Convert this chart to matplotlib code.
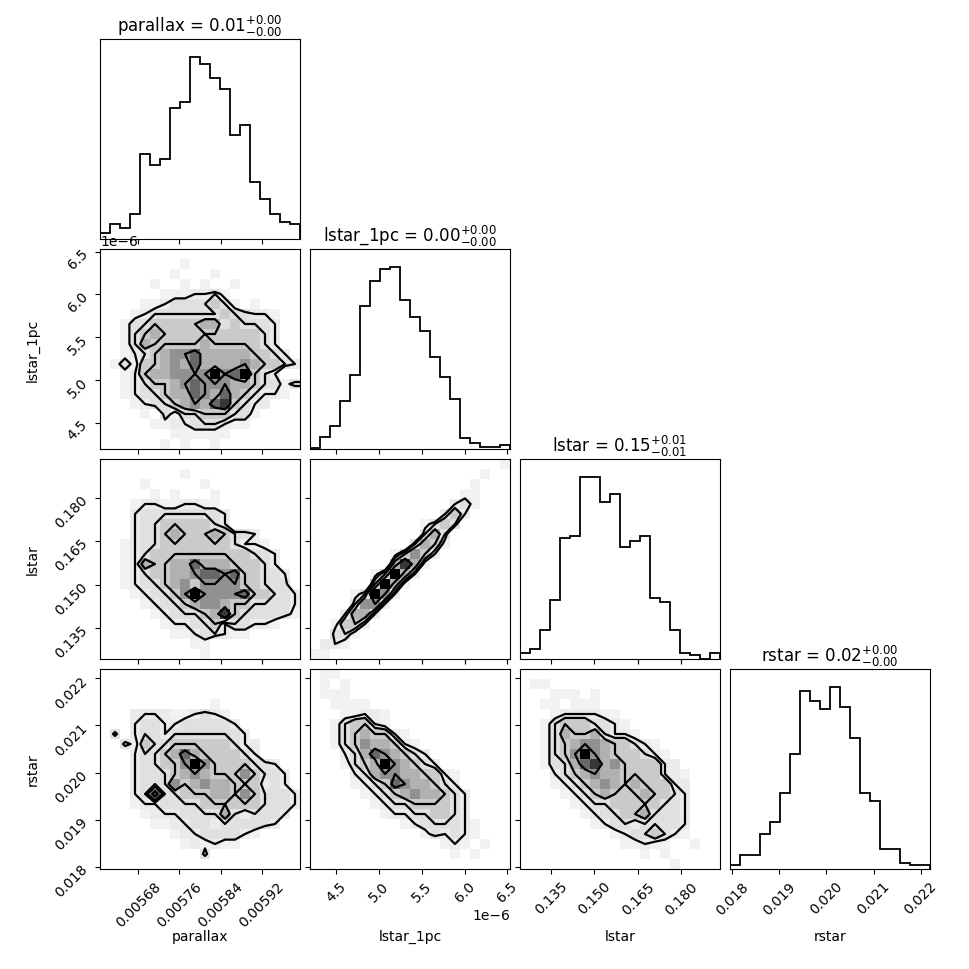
import numpy as np
import matplotlib
matplotlib.use("Agg")
import matplotlib.pyplot as plt
from matplotlib.colors import LinearSegmentedColormap
from matplotlib.ticker import MaxNLocator, NullLocator

# parameter names, titles and plotting ranges
labels = ["parallax", "lstar_1pc", "lstar", "rstar"]
titles = [r"parallax = $0.01_{-0.00}^{+0.00}$",
          r"lstar_1pc = $0.00_{-0.00}^{+0.00}$",
          r"lstar = $0.15_{-0.01}^{+0.01}$",
          r"rstar = $0.02_{-0.00}^{+0.00}$"]
ranges = [(0.005606, 0.005994), (4.19e-6, 6.53e-6), (0.1244, 0.1933), (0.01795, 0.0222)]

# 1D marginal histograms (20 bins, relative heights)
hist_parallax = [3.1, 8.3, 6.1, 13.8, 46.8, 40.9, 44.0, 72.1, 75.2, 100, 96.1, 88.4,
                 82.6, 57.2, 62.8, 31.6, 22.0, 13.8, 9.5, 8.1]
hist_lstar_1pc = [0.6, 6.4, 12.5, 26.2, 40.9, 78.5, 92.5, 98.9, 100, 82.2, 72.5, 64.8,
                  50.5, 39.4, 27.5, 6.2, 3.1, 0.9, 0.9, 2.2]
hist_lstar = [3.1, 5.5, 16.0, 32.5, 66.8, 67.5, 100, 100, 86.6, 90.8, 61.7, 64.8,
              67.7, 33.6, 31.4, 16.0, 3.3, 2.2, 0.2, 3.5]
hist_rstar = [2.0, 7.7, 7.7, 19.3, 25.9, 41.7, 63.3, 97.8, 92.5, 87.9, 100, 89.0,
              72.1, 41.7, 37.2, 10.8, 10.8, 3.1, 2.0, 2.0]
hists = [hist_parallax, hist_lstar_1pc, hist_lstar, hist_rstar]

# 2D histograms, 20x20, first string = top row (largest y);
# each digit is a density class, translated by digit_counts
digit_counts = [0, 2.9, 3.6, 4.5, 5.9, 7.2, 8.5, 10, 11.5, 13]
contour_levels = [3.6, 4.5, 5.9, 8.5]

grid_lstar1pc_parallax = [
    "00000000000000000000",
    "00000000100000000000",
    "00000001000100000000",
    "00000100101001000000",
    "00000011122310000000",
    "00001123333431010000",
    "00012333333343322100",
    "00133444445534333200",
    "00134544444444443200",
    "00135444445444443200",
    "00123456675555544320",
    "01314456575555654432",
    "00124556666967943200",
    "00123445676665543313",
    "00123345576575432210",
    "00012334565784322000",
    "00001031334443310000",
    "00000112233321100000",
    "00000001111110000000",
    "00000010100100000000",
]
grid_lstar_parallax = [
    "00000000000000000000",
    "00000000100000000000",
    "00001000001000000000",
    "00000101000100000000",
    "00012211221100000000",
    "00023333333320000000",
    "00023344444320000000",
    "00023345444543320000",
    "00123344444443221000",
    "00123444444444433200",
    "00125445575554443200",
    "00123445567767443320",
    "00123345646666443330",
    "00012334696666744332",
    "00001233456654433332",
    "00000123334584333331",
    "00000012233423322100",
    "00000001123321100000",
    "00000000011000000000",
    "00000000001000000000",
]
grid_rstar_parallax = [
    "00000000000000000000",
    "00000000000000000000",
    "00000000000000000000",
    "00000000000100000000",
    "00022221123210000000",
    "00023322333332000000",
    "03023323333333200000",
    "00314334444443220000",
    "00023345754444320000",
    "00023344696444433200",
    "00023334565444643320",
    "00023336456554442320",
    "00023733444554643332",
    "00012233334444443332",
    "00001222333353233320",
    "00000112233233333200",
    "00000001223333210000",
    "00000000121211000000",
    "00000000003000000000",
    "00000000000000000000",
]
grid_lstar_lstar1pc = [
    "00000000000000000001",
    "00000000000000000100",
    "00000000000000001000",
    "00000000000000011000",
    "00000000000000231000",
    "00000000000002420000",
    "00000000000134300000",
    "00000000000353000000",
    "00000000003541000000",
    "00000000146420000000",
    "00000000585100000000",
    "00000014952000000000",
    "00000049510000000000",
    "00001396200000000000",
    "00003662000000000000",
    "00025520000000000000",
    "00144200000000000000",
    "00331000000000000000",
    "02210000000000000000",
    "11000000000000000000",
]
grid_rstar_lstar1pc = [
    "01100000000000000000",
    "01010000000000000000",
    "01110000000000000000",
    "00111100000000000000",
    "00011221000000000000",
    "00134421000000000000",
    "00134544210000000000",
    "00134655421000000000",
    "00023576543200000000",
    "00013459654320000000",
    "00002356655442100000",
    "00001234765543200000",
    "00000123456554320000",
    "00000012334444320000",
    "00000001223344320000",
    "00000000012333321000",
    "00000000000132321000",
    "00000000000001210100",
    "00000000000000101000",
    "00000000000000000000",
]
grid_rstar_lstar = [
    "00000000000000000000",
    "01100000000000000000",
    "00011101000000000000",
    "00110111000000000000",
    "00012222110000000000",
    "00134443321000000000",
    "00135445322100000000",
    "00134566544321000000",
    "00134696544432100000",
    "00133578564444220000",
    "00023456554444221000",
    "00012345654544422000",
    "00001234544454432000",
    "00000123344444332000",
    "00000012334453332000",
    "00000001233233332000",
    "00000000012334321000",
    "00000000001121100100",
    "00000000000010100000",
    "00000000000000010000",
]
grids = {(1, 0): grid_lstar1pc_parallax,
         (2, 0): grid_lstar_parallax,
         (3, 0): grid_rstar_parallax,
         (2, 1): grid_lstar_lstar1pc,
         (3, 1): grid_rstar_lstar1pc,
         (3, 2): grid_rstar_lstar}

density_cmap = LinearSegmentedColormap.from_list("density_cmap", ["k", (1, 1, 1, 0)])


def draw_2d(ax, grid, xr, yr):
    Z = np.array([[digit_counts[int(c)] for c in row] for row in grid], dtype=float)[::-1]
    xe = np.linspace(xr[0], xr[1], Z.shape[1] + 1)
    ye = np.linspace(yr[0], yr[1], Z.shape[0] + 1)

    # padded grid so contours close at the edges
    Z2 = Z.min() + np.zeros((Z.shape[0] + 4, Z.shape[1] + 4))
    Z2[2:-2, 2:-2] = Z
    Z2[2:-2, 1] = Z[:, 0]
    Z2[2:-2, -2] = Z[:, -1]
    Z2[1, 2:-2] = Z[0]
    Z2[-2, 2:-2] = Z[-1]
    Z2[1, 1] = Z[0, 0]
    Z2[1, -2] = Z[0, -1]
    Z2[-2, 1] = Z[-1, 0]
    Z2[-2, -2] = Z[-1, -1]
    xc = 0.5 * (xe[1:] + xe[:-1])
    yc = 0.5 * (ye[1:] + ye[:-1])
    dx = xc[1] - xc[0]
    dy = yc[1] - yc[0]
    X2 = np.concatenate([xc[0] + np.array([-2, -1]) * dx, xc, xc[-1] + np.array([1, 2]) * dx])
    Y2 = np.concatenate([yc[0] + np.array([-2, -1]) * dy, yc, yc[-1] + np.array([1, 2]) * dy])

    ax.pcolor(xe, ye, Z.max() - Z, cmap=density_cmap)
    ax.contour(X2, Y2, Z2, contour_levels, colors="k", linewidths=1.6)
    ax.set_xlim(xr)
    ax.set_ylim(yr)


K = 4
lb = 1.0 / 9.7
tr = 9.3 / 9.7
fig, axes = plt.subplots(K, K, figsize=(9.7, 9.7))
fig.subplots_adjust(left=lb, bottom=lb, right=tr, top=tr, wspace=0.05, hspace=0.05)

for i in range(K):
    for j in range(K):
        ax = axes[i, j]
        if j > i:
            ax.set_frame_on(False)
            ax.set_xticks([])
            ax.set_yticks([])
            continue
        if j == i:
            edges = np.linspace(ranges[i][0], ranges[i][1], 21)
            ax.stairs(hists[i], edges, color="k", linewidth=1.3)
            ax.set_xlim(ranges[i])
            ax.set_ylim(0, 1.1 * max(hists[i]))
            ax.set_title(titles[i], fontsize=12)
            ax.yaxis.set_major_locator(NullLocator())
        else:
            draw_2d(ax, grids[(i, j)], ranges[j], ranges[i])
            ax.yaxis.set_major_locator(MaxNLocator(5, prune="lower"))
            if j > 0:
                ax.tick_params(labelleft=False)
                ax.yaxis.offsetText.set_visible(False)
            else:
                for t in ax.get_yticklabels():
                    t.set_rotation(45)
                ax.set_ylabel(labels[i])
                ax.yaxis.set_label_coords(-0.3, 0.5)
        ax.xaxis.set_major_locator(MaxNLocator(5, prune="lower"))
        if i < K - 1:
            ax.tick_params(labelbottom=False)
            ax.xaxis.offsetText.set_visible(False)
        else:
            for t in ax.get_xticklabels():
                t.set_rotation(45)
            ax.set_xlabel(labels[j])
            ax.xaxis.set_label_coords(0.5, -0.3)

fig.savefig("out.png", dpi=100)
